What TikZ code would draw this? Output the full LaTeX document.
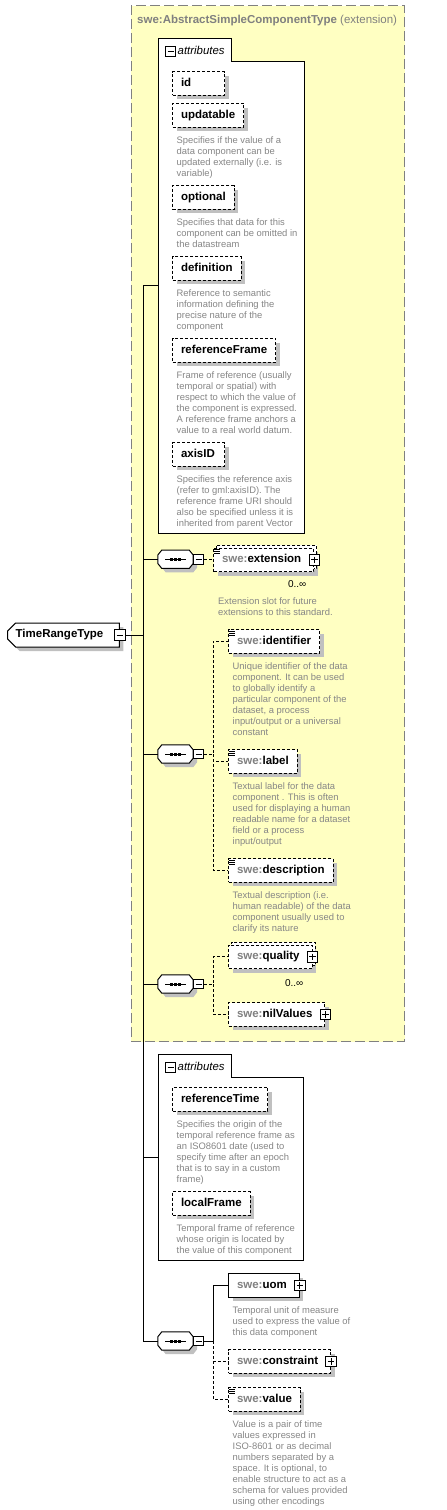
\documentclass[tikz,border=0pt]{standalone}
\usepackage{fontspec}
\setmainfont{Liberation Sans}
\usetikzlibrary{shapes.misc,positioning,shadows,calc}

\definecolor{extfill}{RGB}{255,255,194}
\definecolor{extline}{RGB}{128,128,128}
\definecolor{pfxgrey}{RGB}{128,128,128}
\definecolor{notegrey}{RGB}{134,134,134}
\definecolor{shadowgrey}{RGB}{192,192,192}

\newcommand{\swe}[1]{\textcolor{pfxgrey}{swe:}#1}
\newcommand{\elemfont}{\fontsize{11.5}{13}\selectfont\bfseries}
\newcommand{\notefont}{\fontsize{9.4}{11}\selectfont}

\begin{document}
\begin{tikzpicture}[x=1pt, y=-1pt,
    shadowed/.style={drop shadow={shadow xshift=4pt, shadow yshift=-4pt, fill=shadowgrey, opacity=1}},
    elem/.style={rectangle, draw, line width=1pt, fill=white, font=\elemfont, inner xsep=8.5pt, inner ysep=0pt,
        text height=8.3pt, text depth=2.4pt, minimum height=23.5pt, anchor=north west, shadowed},
    narrow/.style={text width=35pt, align=left},
    opt/.style={dash pattern=on 3pt off 2pt},
    stack/.style={copy shadow={shadow xshift=3pt, shadow yshift=3pt}},
    plusel/.style={execute at end node={\kern4pt}},
    docmark/.style={path picture={\foreach \k in {1.5,3.5,5.5}
        \draw[line width=1pt, solid] ([yshift=-\k pt]path picture bounding box.north west) -- ++(6pt,0);}},
    note/.style={font=\notefont, text=notegrey, align=left, inner sep=0pt},
    mult/.style={font=\fontsize{10}{12}\selectfont, inner sep=0pt},
    minus/.style={rectangle, draw, line width=1pt, fill=white, minimum size=10.5pt, inner sep=0pt,
        path picture={\draw[line width=1pt] ([xshift=2pt]path picture bounding box.west) -- ([xshift=-2pt]path picture bounding box.east);}},
    plus/.style={rectangle, draw, line width=1pt, fill=white, minimum size=10.5pt, inner sep=0pt,
        path picture={\draw[line width=1pt] ([xshift=2pt]path picture bounding box.west) -- ([xshift=-2pt]path picture bounding box.east);
        \draw[line width=1pt] ([yshift=-2pt]path picture bounding box.north) -- ([yshift=2pt]path picture bounding box.south);}},
    seqbox/.style={rectangle, minimum width=35pt, minimum height=18pt, inner sep=0pt},
    seqpath/.style={insert path={([xshift=4pt]#1.north west) -- ([xshift=-4pt]#1.north east) -- ([yshift=-5pt]#1.north east)
        -- ([yshift=5pt]#1.south east) -- ([xshift=-4pt]#1.south east) -- ([xshift=4pt]#1.south west)
        -- ([yshift=5pt]#1.south west) -- ([yshift=-5pt]#1.north west) -- cycle}},
    rootel/.style={chamfered rectangle, chamfered rectangle corners={north west,south west}, chamfered rectangle xsep=4pt,
        chamfered rectangle ysep=4pt, draw, line width=1pt, fill=white, font=\elemfont, minimum width=105pt, minimum height=24pt,
        inner xsep=4pt, inner ysep=0pt, text height=8.3pt, text depth=2.4pt, shadowed},
    extframe/.style={rectangle, draw=extline, line width=1pt, dash pattern=on 10pt off 4pt, fill=extfill, anchor=north west, inner sep=0pt},
    attrbody/.style={rectangle, anchor=north west, inner sep=0pt},
    attrframe/.style={draw, line width=1pt, fill=white},
    attrhead/.style={font=\fontsize{11.4}{13}\selectfont\itshape, inner sep=0pt, text height=8pt, text depth=2.2pt},
    conn/.style={line width=1pt},
    dconn/.style={conn, dash pattern=on 3pt off 2pt}
]
\useasboundingbox (0,0) rectangle (447,1510);

% extension base type
\node[extframe, minimum width=273.3pt, minimum height=1036pt] (extA) at (130.7,5) {};
\node[anchor=base west, inner sep=0pt, text=pfxgrey, font=\fontsize{11.5}{13}\selectfont] (extT) at (137,23)
    {\textbf{swe:AbstractSimpleComponentType} (extension)};

% inherited attributes
\node[attrbody, minimum width=145.3pt, minimum height=495pt] (attrA) at (158.7,38) {};
\draw[attrframe] (attrA.north west) -- ++(72.3,0) |- ([yshift=-23pt]attrA.north east) -- (attrA.south east) -- (attrA.south west) -- cycle;
\node[minus, minimum size=10pt] (attrAM) at (170.5,51.5) {};
\node[attrhead, anchor=west, right=1.5pt of attrAM] (attrAL) {attributes};

\node[elem, opt, narrow] (id) at (172,71) {id};
\node[elem, opt] (upd) at (172,103) {updatable};
\node[note, below right=8.5pt and 4.5pt of upd.south west] (updN) {Specifies if the value of a\\data component can be\\updated externally (i.e. is\\variable)};
\node[elem, opt] (optl) at (172,185) {optional};
\node[note, below right=8.5pt and 4.5pt of optl.south west] (optlN) {Specifies that data for this\\component can be omitted in\\the datastream};
\node[elem, opt] (def) at (172,256) {definition};
\node[note, below right=8.5pt and 4.5pt of def.south west] (defN) {Reference to semantic\\information defining the\\precise nature of the\\component};
\node[elem, opt] (refFr) at (172,338) {referenceFrame};
\node[note, below right=8.5pt and 4.5pt of refFr.south west] (refFrN) {Frame of reference (usually\\temporal or spatial) with\\respect to which the value of\\the component is expressed.\\A reference frame anchors a\\value to a real world datum.};
\node[elem, opt, narrow] (axis) at (172,442) {axisID};
\node[note, below right=8.5pt and 4.5pt of axis.south west] (axisN) {Specifies the reference axis\\(refer to gml:axisID). The\\reference frame URI should\\also be specified unless it is\\inherited from parent Vector};

% inherited elements
\node[elem, opt, stack, docmark, plusel] (ext) at (213,547.5) {\swe{extension}};
\node[plus] (extP) at (ext.east) {};
\node[mult] (extN) at ($(ext.south east)+(-17,12)$) {0..∞};
\node[note, below right=25pt and 5pt of ext.south west] (extD) {Extension slot for future\\extensions to this standard.};

\node[elem, opt, docmark] (ident) at (228,629) {\swe{identifier}};
\node[note, below right=8.5pt and 4.5pt of ident.south west] (identN) {Unique identifier of the data\\component. It can be used\\to globally identify a\\particular component of the\\dataset, a process\\input/output or a universal\\constant};
\node[elem, opt, docmark] (lab) at (228,749) {\swe{label}};
\node[note, below right=8.5pt and 4.5pt of lab.south west] (labN) {Textual label for the data\\component . This is often\\used for displaying a human\\readable name for a dataset\\field or a process\\input/output};
\node[elem, opt, docmark] (descr) at (228,858) {\swe{description}};
\node[note, below right=8.5pt and 4.5pt of descr.south west] (descrN) {Textual description (i.e.\\human readable) of the data\\component usually used to\\clarify its nature};

\node[elem, opt, stack, plusel] (qual) at (228,944.5) {\swe{quality}};
\node[plus] (qualP) at (qual.east) {};
\node[mult] (qualN) at ($(qual.south east)+(-18.5,14)$) {0..∞};
\node[elem, opt, plusel] (nil) at (228,1002) {\swe{nilValues}};
\node[plus] (nilP) at (nil.east) {};

% own attributes
\node[attrbody, minimum width=144.3pt, minimum height=206pt] (attrB) at (158.7,1054) {};
\draw[attrframe] (attrB.north west) -- ++(72.3,0) |- ([yshift=-23pt]attrB.north east) -- (attrB.south east) -- (attrB.south west) -- cycle;
\node[minus, minimum size=10pt] (attrBM) at (170.5,1067.5) {};
\node[attrhead, anchor=west, right=1.5pt of attrBM] (attrBL) {attributes};

\node[elem, opt] (refTime) at (172,1087) {referenceTime};
\node[note, below right=8.5pt and 4.5pt of refTime.south west] (refTimeN) {Specifies the origin of the\\temporal reference frame as\\an ISO8601 date (used to\\specify time after an epoch\\that is to say in a custom\\frame)};
\node[elem, opt] (locFr) at (172,1191) {localFrame};
\node[note, below right=8.5pt and 4.5pt of locFr.south west] (locFrN) {Temporal frame of reference\\whose origin is located by\\the value of this component};

% own elements
\node[elem, plusel] (uom) at (228,1273) {\swe{uom}};
\node[plus] (uomP) at (uom.east) {};
\node[note, below right=8.5pt and 4.5pt of uom.south west] (uomN) {Temporal unit of measure\\used to express the value of\\this data component};
\node[elem, opt, plusel] (constr) at (228,1349) {\swe{constraint}};
\node[plus] (constrP) at (constr.east) {};
\node[elem, opt, docmark] (val) at (228,1387) {\swe{value}};
\node[note, below right=8.5pt and 4.5pt of val.south west] (valN) {Value is a pair of time\\values expressed in\\ISO-8601 or as decimal\\numbers separated by a\\space. It is optional, to\\enable structure to act as a\\schema for values provided\\using other encodings};

% root and compositors
\node[rootel] (root) at (63.5,635) {TimeRangeType\kern8pt};
\node[minus] (rootM) at (root.east) {};
\node[seqbox] (seq1) at (175.5,559.25) {};
\node[seqbox] (seq2) at (175.5,754) {};
\node[seqbox] (seq3) at (175.5,984) {};
\node[seqbox] (seq4) at (175.5,1341) {};
\foreach \s in {seq1,seq2,seq3,seq4} {
    \fill[shadowgrey, transform canvas={shift={(4pt,-4pt)}}, seqpath=\s];
    \draw[conn, fill=white, seqpath=\s];
    \draw[conn] ([xshift=-10.5pt]\s.center) -- ([xshift=10.5pt]\s.center);
    \foreach \d in {-4,0,4}
        \fill ([xshift=\d pt]\s.center) +(-1.5,-1.5) rectangle +(1.5,1.5);
    \node[minus, minimum width=10pt, minimum height=9.5pt, right=0pt of \s] (\s M) {};
}

% connectors
\draw[conn] (attrA.west) -- ++(-15.7,0) coordinate (trunk) |- (seq4.west);
\draw[conn] (rootM.east) -- (rootM.east -| trunk);
\foreach \s in {seq1,seq2,seq3}
    \draw[conn] (\s.west) -- (\s.west -| trunk);
\draw[conn] (attrB.west) -- (attrB.west -| trunk);

\draw[dconn] (seq1M.east) -- (seq1M.east -| ext.west);
\draw[dconn] (seq2M.east) -- ++(9,0) coordinate (j2) |- (ident.west);
\draw[dconn] (j2) |- (lab.west);
\draw[dconn] (j2) |- (descr.west);
\draw[dconn] (seq3M.east) -- ++(9,0) coordinate (j3) |- (qual.west);
\draw[dconn] (j3) |- (nil.west);
\draw[conn] (seq4M.east) -- ++(9,0) coordinate (j4) |- (uom.west);
\draw[dconn] (j4) |- (constr.west);
\draw[dconn] (j4) |- (val.west);
\end{tikzpicture}
\end{document}
